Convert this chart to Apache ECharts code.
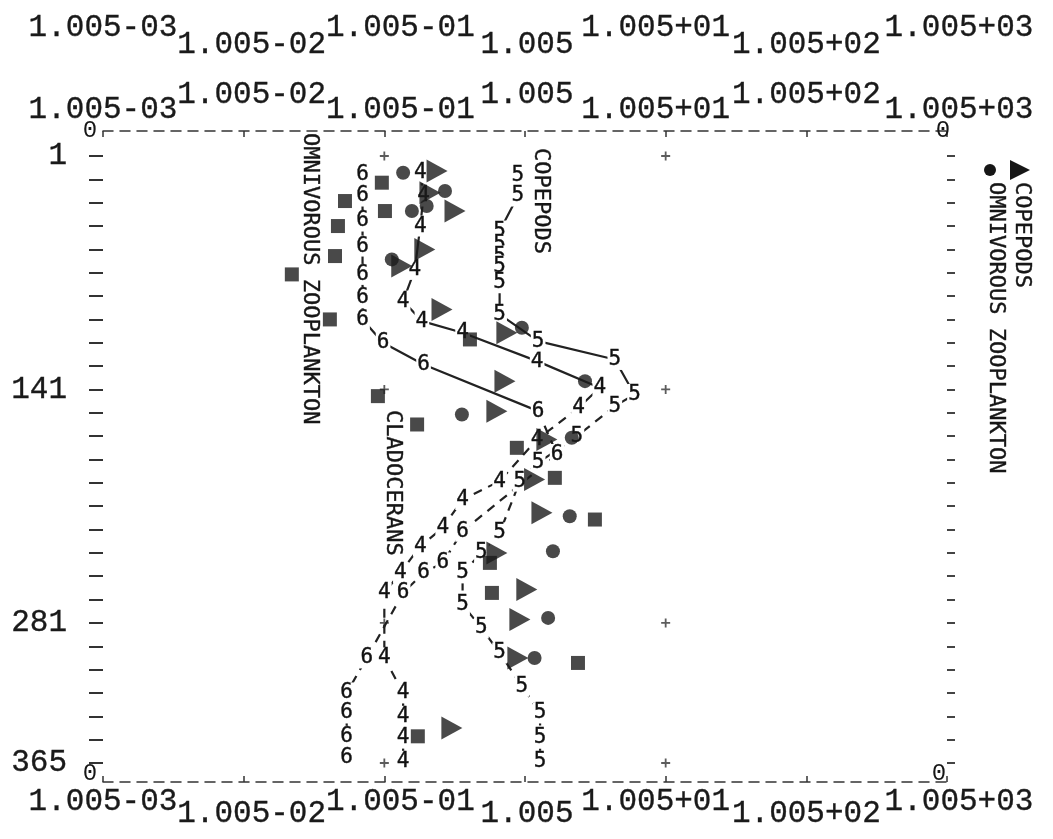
<!DOCTYPE html>
<html><head><meta charset="utf-8">
<script src="https://cdn.jsdelivr.net/npm/echarts@6.0.0/dist/echarts.min.js"></script>
<style>html,body{margin:0;padding:0;background:#fff}#c{width:1053px;height:839px}</style>
</head><body><div id="c"></div>
<script>
// ---------- data ----------
const xTickLabels = ['1.005-03','1.005-02','1.005-01','1.005','1.005+01','1.005+02','1.005+03'];
const yTickValues = [1,141,281,365];
const yTickLabels = ['1','141','281','365'];
const crossX = [0.1,10];
// digit-marked series: [abundance, day]
const series4 = [[0.18,11],[0.19,25],[0.18,43],[0.165,69],[0.136,88],[0.185,100],[0.36,107],[1.22,124],[3.4,140],[2.4,152],[1.22,171],[0.66,196],[0.36,207],[0.26,224],[0.18,235],[0.13,251],[0.10,263],[0.10,302],[0.136,323],[0.136,337],[0.136,350],[0.136,364]];
const series5 = [[0.89,13],[0.89,25],[0.66,46],[0.66,54],[0.66,61],[0.66,67],[0.66,77],[0.66,96],[1.24,112],[4.35,123],[6.0,144],[4.35,151],[2.34,169],[1.24,185],[0.92,196],[0.66,227],[0.49,239],[0.36,251],[0.36,270],[0.49,284],[0.66,299],[0.95,319],[1.28,335],[1.28,350],[1.28,364]];
const series6 = [[0.070,12],[0.070,25],[0.070,40],[0.070,55],[0.070,72],[0.070,86],[0.070,99],[0.098,113],[0.19,126],[1.24,154],[1.69,180],[0.36,226],[0.26,245],[0.19,251],[0.136,263],[0.075,302],[0.054,323],[0.054,335],[0.054,349],[0.054,362]];
// symbol series
const copepods = [[0.237,10],[0.211,23],[0.318,34],[0.194,57],[0.133,67],[0.257,93],[0.743,107],[0.72,136],[0.631,154],[1.43,171],[1.17,195],[1.32,215],[0.631,239],[1.03,261],[0.92,279],[0.89,302],[0.302,344]];
const omnivorous = [[0.136,11],[0.27,22],[0.20,31],[0.157,34],[0.113,63],[0.95,104],[2.67,136],[0.356,156],[2.15,170],[2.08,217],[1.58,238],[1.46,278],[1.17,302]];
const cladocerans = [[0.096,17],[0.0525,28],[0.101,34],[0.0468,43],[0.0446,61],[0.022,72],[0.041,99],[0.406,111],[0.09,145],[0.171,162],[0.875,176],[1.63,194],[3.14,219],[0.563,245],[0.582,263],[2.38,305],[0.173,349]];

// ---------- styling ----------
const SOLID_UNTIL = 156;
const INK = '#161616';
const MONO = '"DejaVu Sans Mono", "Liberation Mono", monospace';
const TYPE = '"Liberation Mono", "DejaVu Sans Mono", monospace';
const LABEL_SHIFT = [0, 8, 16, 2, -10, 0, 12]; // horizontal nudge of each decade label (px)
const yMinorTicks = [];
for (let d = 1; d <= 365; d += 14) yMinorTicks.push(d);

const chart = echarts.init(document.getElementById('c'), null, {renderer:'canvas'});

const richShift = {};
LABEL_SHIFT.forEach((s, i) => {
  richShift['s' + i] = {padding: s >= 0 ? [0, 0, 0, 2*s] : [0, -2*s, 0, 0]};
});
function labelFor(parity){
  return function(v){
    const i = Math.round(Math.log10(v)) + 3;
    if (i < 0 || i > 6) return '';
    return (i % 2 === parity) ? '{s' + i + '|' + xTickLabels[i] + '}' : '';
  };
}
const axisText = {fontFamily:TYPE, fontSize:31, lineHeight:31, color:'#1a1a1a', textBorderColor:'#1a1a1a', textBorderWidth:0.35};
function xAxisDef(position, parity, margin, main){
  return {
    type:'log', logBase:10, min:0.001, max:1000, gridIndex:0, position:position,
    axisLine:{show:main, onZero:false, lineStyle:{type:[10,7], color:'#333', width:1.5}},
    axisTick:{show:main, inside:true, length:6, lineStyle:{color:'#333', width:1.5}},
    minorTick:{show:false}, splitLine:{show:false},
    axisLabel:Object.assign({show:true, margin:margin, showMinLabel:true, showMaxLabel:true,
      formatter:labelFor(parity), rich:richShift}, axisText)
  };
}

function splitSeries(data){
  let k = 0;
  while (k < data.length && data[k][1] <= SOLID_UNTIL) k++;
  return {solid: data.slice(0, k), dashed: data.slice(Math.max(k-1,0))};
}
function digitSeries(data, digit){
  const parts = splitSeries(data);
  const lbl = {show:true, position:'inside', formatter:digit, fontFamily:MONO, fontSize:21, color:'#111',
    textBorderColor:'#111', textBorderWidth:0.4, backgroundColor:'#fff', padding:[0,1]};
  const common = {type:'line', symbol:'circle', symbolSize:1, showSymbol:true, showAllSymbol:true,
    itemStyle:{color:'rgba(0,0,0,0)'}, silent:true, animation:false, z:3};
  return [
    Object.assign({}, common, {name:'s'+digit+'a', data:parts.solid, lineStyle:{color:'#222', width:2.2, type:'solid'}, label:lbl}),
    Object.assign({}, common, {name:'s'+digit+'b', data:parts.dashed, lineStyle:{color:'#222', width:2.2, type:[9,7]},
      label:Object.assign({}, lbl, {formatter: p => p.dataIndex === 0 ? '' : digit})})
  ];
}
const crosses = [];
crossX.forEach(x => yTickValues.forEach(y => crosses.push([x,y])));

const option = {
  backgroundColor:'#fff',
  animation:false,
  grid:{left:103, right:106, top:131, bottom:57, containLabel:false},
  xAxis:[
    xAxisDef('bottom', 0, 4, true),
    xAxisDef('bottom', 1, 16, false),
    xAxisDef('top', 0, 6, true),
    xAxisDef('top', 1, 21, false),
    xAxisDef('top', 1, 71, false),
    xAxisDef('top', 0, 88, false)
  ],
  yAxis:[
    {type:'value', inverse:true, min:-14, max:376.4, position:'left',
     axisLine:{show:false, onZero:false}, splitLine:{show:false},
     axisTick:{show:true, length:14, customValues:yMinorTicks, lineStyle:{color:'#333', width:2}},
     axisLabel:Object.assign({margin:36, customValues:yTickValues,
       formatter:v => { const i = yTickValues.indexOf(v); return i >= 0 ? yTickLabels[i] : ''; }}, axisText)},
    {type:'value', inverse:true, min:-14, max:376.4, position:'right',
     axisLine:{show:false, onZero:false}, splitLine:{show:false}, axisLabel:{show:false},
     axisTick:{show:true, length:8, customValues:yMinorTicks, lineStyle:{color:'#444', width:2}}}
  ],
  series:[
    ...digitSeries(series4,'4'),
    ...digitSeries(series5,'5'),
    ...digitSeries(series6,'6'),
    {type:'scatter', name:'grid crosses', data:crosses, symbol:'path://M4,0H6V4H10V6H6V10H4V6H0V4H4Z', symbolSize:9,
     itemStyle:{color:'#333'}, silent:true, z:2},
    {type:'scatter', name:'COPEPODS', data:copepods, symbol:'path://M0,0L20,11L0,22Z', symbolSize:[21,23],
     itemStyle:{color:'#1c1c1c'}, silent:true, z:5},
    {type:'scatter', name:'OMNIVOROUS ZOOPLANKTON', data:omnivorous, symbol:'circle', symbolSize:14,
     itemStyle:{color:'#1c1c1c'}, silent:true, z:5},
    {type:'scatter', name:'CLADOCERANS', data:cladocerans, symbol:'rect', symbolSize:14,
     itemStyle:{color:'#1c1c1c'}, silent:true, z:5}
  ]
};
chart.setOption(option);

function vtext(x, y, text, size){
  return {type:'text', x:x, y:y, rotation:-Math.PI/2, z:10, silent:true,
    style:{text:text, font:size+'px '+MONO, fill:INK, stroke:INK, lineWidth:0.4,
      textAlign:'left', textVerticalAlign:'middle', align:'left', verticalAlign:'middle'}};
}
function htext(x, y, text, size){
  return {type:'text', x:x, y:y, z:10, silent:true,
    style:{text:text, font:size+'px '+TYPE, fill:INK,
      textAlign:'center', textVerticalAlign:'middle', align:'center', verticalAlign:'middle'}};
}
chart.setOption({graphic:[
  vtext(310, 133, 'OMNIVOROUS ZOOPLANKTON', 22),
  vtext(541, 148, 'COPEPODS', 22),
  vtext(393, 410, 'CLADOCERANS', 22),
  vtext(996, 182, 'OMNIVOROUS ZOOPLANKTON', 22),
  vtext(1022, 182, 'COPEPODS', 22),
  {type:'circle', shape:{cx:990, cy:170, r:6}, style:{fill:INK}, silent:true},
  {type:'polygon', shape:{points:[[1010,160],[1030,170],[1010,180]]}, style:{fill:INK}, silent:true},
  htext(90, 131, '0', 24), htext(943, 131, '0', 24),
  htext(90, 774, '0', 24), htext(939, 774, '0', 24)
]});
</script>
</body></html>
